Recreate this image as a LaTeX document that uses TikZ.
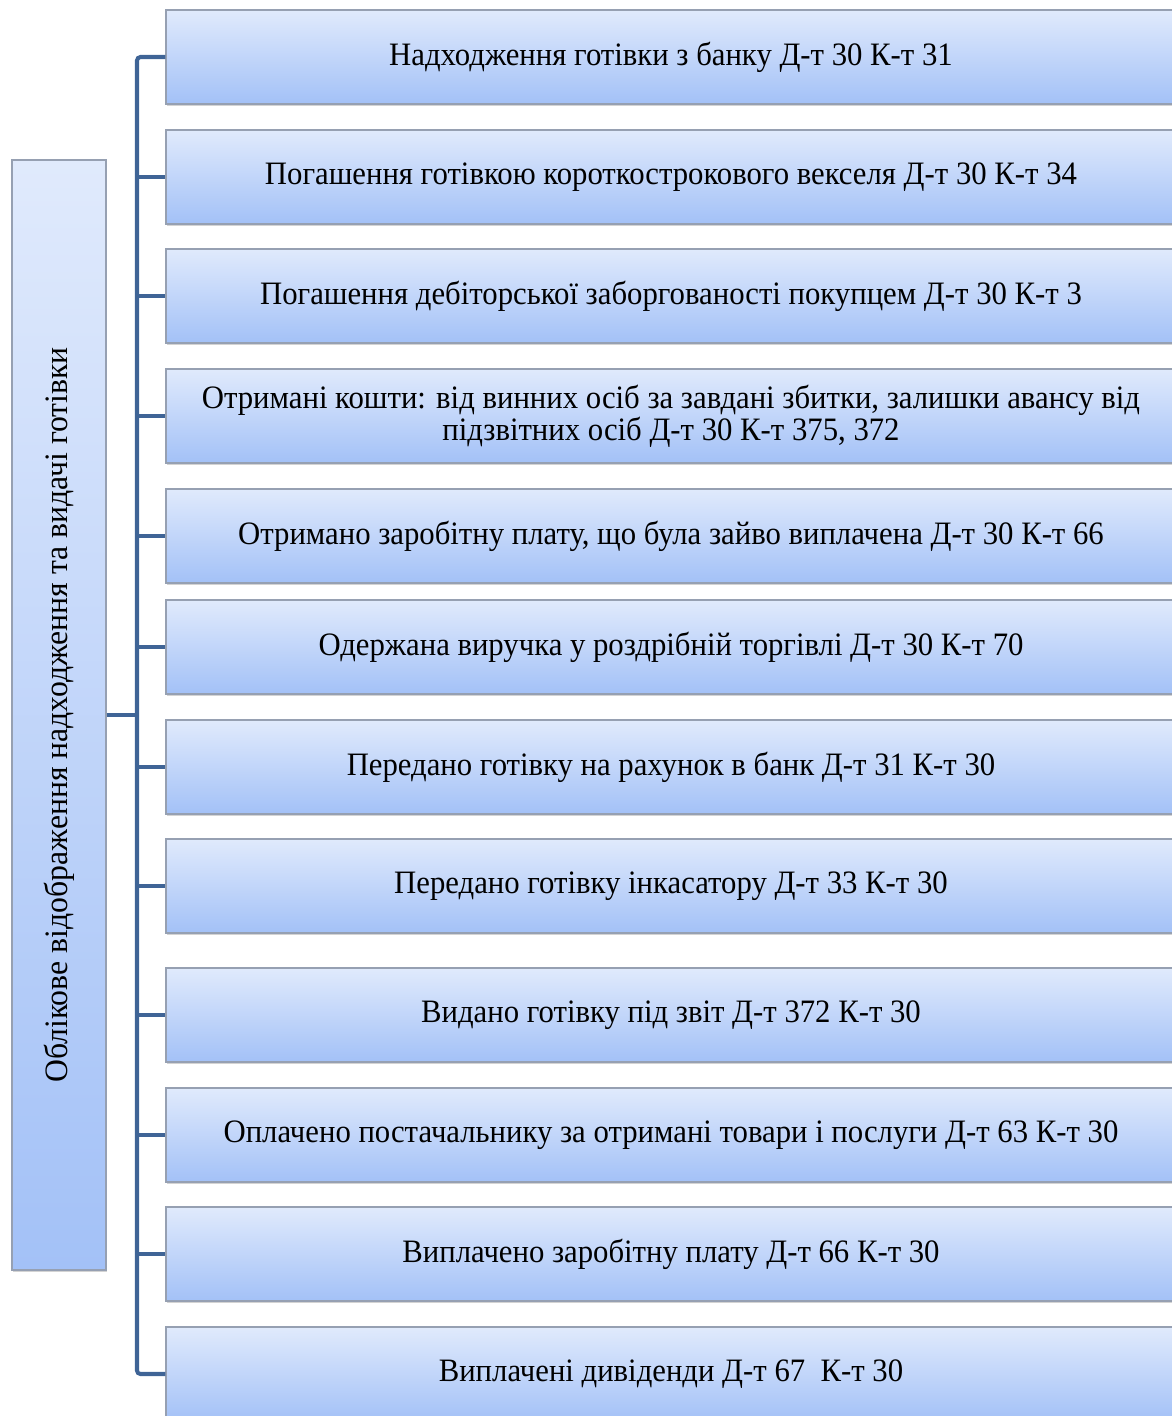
\documentclass[tikz,border=0pt]{standalone}
\usepackage{fontspec}
\setmainfont[FakeStretch=0.94]{Liberation Serif}
\newfontfamily\sidefont[FakeStretch=0.97]{Liberation Serif}
\usetikzlibrary{positioning}
\usetikzlibrary{shadows}
\definecolor{trunkblue}{RGB}{63,100,150}
\definecolor{boxtop}{RGB}{224,234,252}
\definecolor{boxbot}{RGB}{163,193,247}
\definecolor{boxline}{RGB}{150,160,178}
\tikzset{
  entry/.style={rectangle, draw=boxline, line width=0.8pt,
    top color=boxtop, bottom color=boxbot,
    minimum width=202mm, minimum height=18.8mm, inner sep=0pt,
    align=center, font=\fontsize{18.6}{18.4}\selectfont,
    drop shadow={opacity=0.35, shadow xshift=0.6pt, shadow yshift=-1.4pt}},
  sidebox/.style={rectangle, draw=boxline, line width=0.8pt,
    top color=boxtop, bottom color=boxbot,
    minimum width=18.8mm, minimum height=222mm, inner sep=0pt,
    drop shadow={opacity=0.35, shadow xshift=0.6pt, shadow yshift=-1.4pt}},
  trunk/.style={draw=trunkblue, line width=2.3pt},
}
\begin{document}
\begin{tikzpicture}[x=0.2mm, y=-0.2mm]
    \useasboundingbox (0,0) rectangle (1172,1416);
    \clip (0,0) rectangle (1172,1416);

    \node[sidebox] (obl) at (59,715) {};
    \node[rotate=90, font=\sidefont\fontsize{18.6}{18.4}\selectfont] (obltxt) at (obl)
      {Обліковe відображення надходження та видачі готівки};

    \node[entry] (b1) at (671,57) {Надходження готівки з банку Д-т 30 К-т 31};
    \node[entry] (b2) at (671,177) {Погашення готівкою короткострокового векселя Д-т 30 К-т 34};
    \node[entry] (b3) at (671,296) {Погашення дебіторської заборгованості покупцем Д-т 30 К-т 3};
    \node[entry] (b4) at (671,416) {Отримані кошти: від винних осіб за завдані збитки, залишки авансу від\\ підзвітних осіб Д-т 30 К-т 375, 372};
    \node[entry] (b5) at (671,536) {Отримано заробітну плату, що була зайво виплачена Д-т 30 К-т 66};
    \node[entry] (b6) at (671,647) {Одержана виручка у роздрібній торгівлі Д-т 30 К-т 70};
    \node[entry] (b7) at (671,767) {Передано готівку на рахунок в банк Д-т 31 К-т 30};
    \node[entry] (b8) at (671,886) {Передано готівку інкасатору Д-т 33 К-т 30};
    \node[entry] (b9) at (671,1015) {Видано готівку під звіт Д-т 372 К-т 30};
    \node[entry] (b10) at (671,1135) {Оплачено постачальнику за отримані товари і послуги Д-т 63 К-т 30};
    \node[entry] (b11) at (671,1254) {Виплачено заробітну плату Д-т 66 К-т 30};
    \node[entry] (b12) at (671,1374) {Виплачені дивіденди Д-т 67 ~К-т 30};

    \coordinate (tr) at (137,715);

    % trunk with the first and last branch
    \draw[trunk, rounded corners=2pt] (b1.west) -| (tr) |- (b12.west);
    \draw[trunk] (obl.east) -- (tr);
    \foreach \b in {b2,b3,b4,b5,b6,b7,b8,b9,b10,b11}
      \draw[trunk] (tr |- \b.west) -- (\b.west);
\end{tikzpicture}
\end{document}
